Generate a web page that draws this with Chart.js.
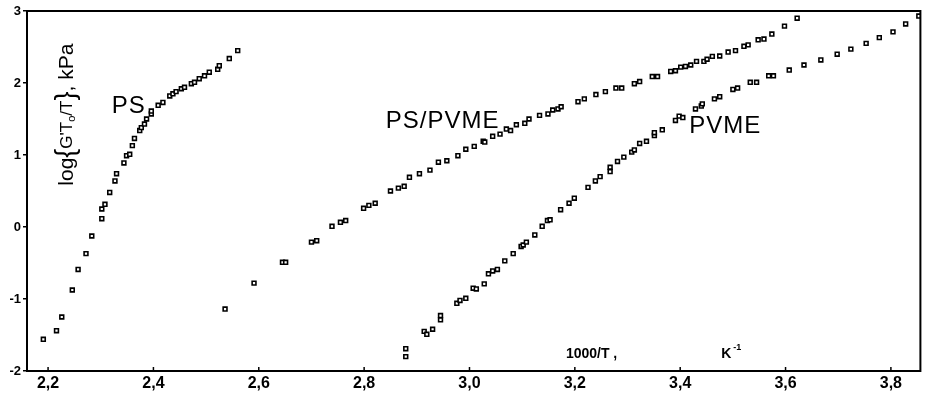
<!DOCTYPE html>
<html>
<head>
<meta charset="utf-8">
<script src="https://cdn.jsdelivr.net/npm/chart.js@4/dist/chart.umd.min.js"></script>
<style>
html,body{margin:0;padding:0;background:#fff;}
#wrap{width:926px;height:394px;position:relative;}
</style>
</head>
<body>
<div id="wrap"><canvas id="myChart"></canvas></div>
<script>
// PS
var psX = [2.191,2.216,2.226,2.246,2.257,2.272,2.283,2.302,2.302,2.308,2.317,2.327,2.330,2.344,2.349,2.355,2.360,2.364,2.374,2.377,2.383,2.387,2.396,2.396,2.409,2.418,2.431,2.437,2.443,2.453,2.459,2.472,2.478,2.487,2.497,2.506,2.522,2.525,2.544,2.560];
var psY = [-1.56,-1.44,-1.25,-0.875,-0.59,-0.37,-0.125,0.115,0.25,0.315,0.48,0.64,0.74,0.89,0.99,1.01,1.13,1.23,1.34,1.38,1.43,1.50,1.57,1.61,1.69,1.73,1.82,1.85,1.88,1.92,1.94,1.99,2.01,2.06,2.10,2.15,2.19,2.24,2.34,2.45];

// PS/PVME
var blendX = [2.536,2.591,2.645,2.651,2.700,2.710,2.739,2.755,2.765,2.799,2.809,2.821,2.850,2.865,2.876,2.886,2.905,2.925,2.941,2.957,2.978,2.993,3.009,3.026,3.029,3.044,3.058,3.070,3.078,3.089,3.105,3.113,3.133,3.149,3.158,3.168,3.174,3.206,3.218,3.240,3.258,3.278,3.289,3.313,3.323,3.347,3.357,3.382,3.391,3.401,3.410,3.420,3.431,3.445,3.451,3.461,3.475,3.491,3.505,3.521,3.529,3.548,3.559,3.574,3.598,3.622];
var blendY = [-1.14,-0.78,-0.49,-0.49,-0.21,-0.19,0.01,0.065,0.09,0.26,0.30,0.33,0.50,0.54,0.565,0.69,0.74,0.79,0.90,0.92,0.99,1.08,1.12,1.19,1.18,1.26,1.29,1.36,1.34,1.42,1.44,1.50,1.55,1.57,1.625,1.64,1.67,1.74,1.78,1.84,1.88,1.93,1.93,1.99,2.02,2.09,2.09,2.16,2.17,2.22,2.23,2.25,2.30,2.30,2.33,2.37,2.375,2.43,2.45,2.51,2.53,2.60,2.61,2.68,2.79,2.90];

// PVME
var pvmeX = [2.879,2.879,2.914,2.919,2.930,2.945,2.945,2.976,2.982,2.993,3.007,3.013,3.028,3.036,3.044,3.053,3.067,3.083,3.098,3.102,3.108,3.124,3.138,3.148,3.153,3.173,3.189,3.199,3.225,3.239,3.248,3.267,3.267,3.281,3.293,3.308,3.313,3.323,3.336,3.351,3.351,3.366,3.391,3.398,3.405,3.429,3.440,3.442,3.465,3.475,3.500,3.509,3.533,3.545,3.568,3.577,3.607,3.635,3.667,3.698,3.724,3.753,3.778,3.804,3.828,3.853];
var pvmeY = [-1.69,-1.80,-1.45,-1.49,-1.42,-1.23,-1.29,-1.06,-1.02,-0.99,-0.85,-0.86,-0.79,-0.65,-0.61,-0.59,-0.47,-0.37,-0.27,-0.25,-0.21,-0.11,0.01,0.09,0.10,0.24,0.33,0.40,0.55,0.64,0.70,0.77,0.83,0.91,0.97,1.04,1.07,1.16,1.19,1.27,1.31,1.35,1.48,1.54,1.52,1.64,1.68,1.71,1.78,1.81,1.91,1.93,2.01,2.01,2.10,2.10,2.18,2.25,2.32,2.40,2.47,2.55,2.63,2.71,2.82,2.93];

var xTicks = [2.2,2.4,2.6,2.8,3.0,3.2,3.4,3.6,3.8];
var yTicks = [-2,-1,0,1,2,3];

// curve labels placed in data units
var curveLabels = [
  {text:"PS", x:2.321, y:1.58},
  {text:"PS/PVME", x:2.841, y:1.375},
  {text:"PVME", x:3.417, y:1.31}
];

var FONT = "'Liberation Sans', Arial, sans-serif";

function pts(xs, ys){
  var out = [];
  for (var i = 0; i < xs.length; i++) out.push({x: xs[i], y: ys[i]});
  return out;
}

function series(xs, ys){
  return {
    data: pts(xs, ys),
    pointStyle: "rect",
    pointRadius: 2.7,
    borderWidth: 1.6,
    borderColor: "#000",
    backgroundColor: "#fff",
    showLine: false
  };
}

var textPlugin = {
  id: "texts",
  afterDraw: function(chart){
    var ctx = chart.ctx, a = chart.chartArea;
    var sx = chart.scales.x, sy = chart.scales.y;
    ctx.save();
    // frame
    ctx.strokeStyle = "#000";
    ctx.lineWidth = 2;
    ctx.strokeRect(a.left, a.top, a.right - a.left, a.bottom - a.top);
    // x ticks drawn inward
    ctx.lineWidth = 1.5;
    xTicks.forEach(function(v){
      var px = sx.getPixelForValue(v);
      ctx.beginPath(); ctx.moveTo(px, a.bottom); ctx.lineTo(px, a.bottom - 4); ctx.stroke();
    });
    ctx.fillStyle = "#000";
    ctx.textBaseline = "alphabetic";
    ctx.textAlign = "left";
    ctx.font = "24px " + FONT;
    ctx.letterSpacing = "1px";
    curveLabels.forEach(function(l){
      ctx.fillText(l.text, sx.getPixelForValue(l.x), sy.getPixelForValue(l.y));
    });
    ctx.letterSpacing = "0px";
    // axis caption for x
    ctx.font = "bold 14px " + FONT;
    var bx = sx.getPixelForValue(3.183), by = sy.getPixelForValue(-1.82);
    ctx.fillText("1000/T ,", bx, by);
    var kx = sx.getPixelForValue(3.478);
    ctx.fillText("K", kx, by);
    ctx.font = "bold 9px " + FONT;
    ctx.fillText("-1", kx + 12, by - 8);
    // y title, rotated, inside plot
    ctx.translate(sx.getPixelForValue(2.234) + 7, sy.getPixelForValue(1.56));
    ctx.rotate(-Math.PI / 2);
    var parts = [
      {t:"log", f:"21px", dy:0},
      {t:"{", f:"27px", dy:1},
      {t:"G'T", f:"17px", dy:-1},
      {t:"o", f:"11px", dy:2},
      {t:"/T", f:"17px", dy:-1},
      {t:"}", f:"27px", dy:1},
      {t:", kPa", f:"21px", dy:0}
    ];
    var total = 0;
    parts.forEach(function(p){ ctx.font = p.f + " " + FONT; p.w = ctx.measureText(p.t).width; total += p.w; });
    var cx = -total / 2;
    parts.forEach(function(p){
      ctx.font = p.f + " " + FONT;
      ctx.fillText(p.t, cx, p.dy);
      cx += p.w;
    });
    ctx.restore();
  }
};

new Chart("myChart", {
  type: "scatter",
  data: {
    datasets: [series(psX, psY), series(blendX, blendY), series(pvmeX, pvmeY)]
  },
  options: {
    responsive: true,
    maintainAspectRatio: false,
    animation: false,
    layout: {padding: {top: 11, right: 2, left: 0, bottom: 0}},
    plugins: {legend: {display: false}, tooltip: {enabled: false}},
    scales: {
      x: {
        type: "linear",
        min: 2.160, max: 3.856,
        afterBuildTicks: function(s){ s.ticks = xTicks.map(function(v){ return {value: v}; }); },
        afterFit: function(s){ s.height = 23; },
        grid: {display: false, drawTicks: false, tickLength: 0},
        border: {display: false},
        ticks: {
          color: "#000",
          padding: 3,
          maxRotation: 0,
          font: {family: FONT, size: 16, weight: "bold"},
          callback: function(v){ return v.toFixed(1).replace(".", ","); }
        }
      },
      y: {
        type: "linear",
        min: -2, max: 3,
        afterBuildTicks: function(s){ s.ticks = yTicks.map(function(v){ return {value: v}; }); },
        afterFit: function(s){ s.width = 27; },
        grid: {drawOnChartArea: false, tickLength: 4, color: "#000", lineWidth: 1.5},
        border: {display: false},
        ticks: {
          color: "#000",
          padding: 2,
          font: {family: FONT, size: 13, weight: "bold"},
          callback: function(v){ return String(v); }
        }
      }
    }
  },
  plugins: [textPlugin]
});
</script>
</body>
</html>
